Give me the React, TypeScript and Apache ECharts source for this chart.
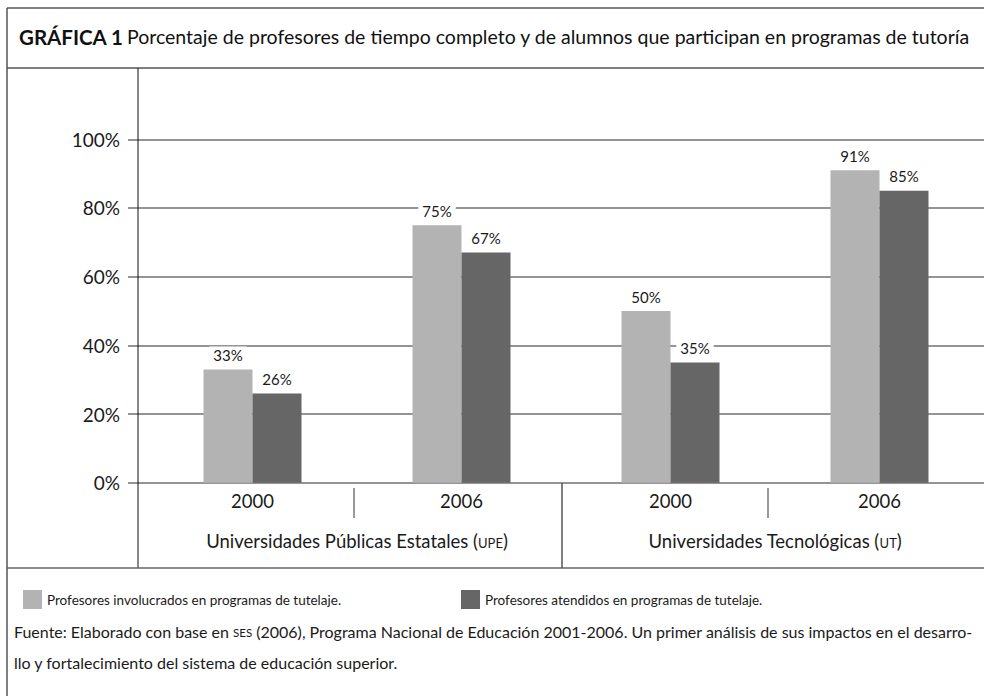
import React, { useEffect, useRef } from "react";
import * as echarts from "echarts";

const years = ["2000", "2006", "2000", "2006"];
const groups = ["Universidades Públicas Estatales (UPE)", "Universidades Tecnológicas (UT)"];
const seriesNames = [
  "Profesores involucrados en programas de tutelaje.",
  "Profesores atendidos en programas de tutelaje.",
];
const involved = [33, 75, 50, 91];
const attended = [26, 67, 35, 85];
const yMin = 0;
const yMax = 100;
const yInterval = 20;

const titleBold = "GRÁFICA 1";
const titleText = "Porcentaje de profesores de tiempo completo y de alumnos que participan en programas de tutoría";
const sourceLine1a = "Fuente: Elaborado con base en ";
const sourceLine1sc = "SES";
const sourceLine1b = " (2006), Programa Nacional de Educación 2001-2006. Un primer análisis de sus impactos en el desarro-";
const sourceLine2 = "llo y fortalecimiento del sistema de educación superior.";

const FONT = "Lato, 'Noto Sans', sans-serif";
const LIGHT = "#b3b3b3";
const DARK = "#666666";
const LINE = "#707070";
const TEXT = "#1a1a1a";

export default function App() {
  const ref = useRef<HTMLDivElement>(null);
  useEffect(() => {
    if (!ref.current) return;
    const chart = echarts.init(ref.current, undefined, { renderer: "svg" });
    const top = 139.3;
    const height = 343.4;
    const bottom = 696 - top - height;
    const line = (x1: number, y1: number, x2: number, y2: number, stroke: string, lineWidth: number) => ({
      type: "line",
      shape: { x1, y1, x2, y2 },
      style: { stroke, lineWidth },
      silent: true,
      z: 10,
    });
    const barLabel = {
      show: true,
      position: "top",
      distance: 6,
      formatter: "{c}%",
      fontSize: 15,
      color: TEXT,
      fontFamily: FONT,
      backgroundColor: "#ffffff",
      padding: [1, 4],
    };
    const option: any = {
      animation: false,
      textStyle: { fontFamily: FONT },
      grid: [
        { left: 128, right: 0, top, bottom },
        { left: 148, right: 0, top, bottom },
      ],
      xAxis: [
        { gridIndex: 0, type: "value", show: false, min: 0, max: 1 },
        {
          gridIndex: 1,
          type: "category",
          data: years,
          axisLine: { show: false },
          axisTick: { show: false },
          axisLabel: { interval: 0, fontSize: 18.5, color: TEXT, margin: 9, fontFamily: FONT },
        },
        {
          gridIndex: 1,
          type: "category",
          data: groups,
          position: "bottom",
          offset: 40,
          axisLine: { show: false },
          axisTick: { show: false },
          axisLabel: {
            interval: 0,
            hideOverlap: false,
            fontSize: 18.5,
            color: TEXT,
            margin: 7,
            fontFamily: FONT,
            lineHeight: 22,
            formatter: (v: string) => v.replace(/\((UPE|UT)\)/, "({sc|$1})"),
            rich: { sc: { fontSize: 13, color: TEXT, fontFamily: FONT, lineHeight: 22, verticalAlign: "bottom", padding: [0, 0, 2, 0] } },
          },
        },
      ],
      yAxis: [
        {
          gridIndex: 0,
          type: "value",
          min: yMin,
          max: yMax,
          interval: yInterval,
          axisLine: { show: false },
          axisTick: { show: false },
          axisLabel: { formatter: "{value}%", fontSize: 19, color: TEXT, margin: 8, fontFamily: FONT },
          splitLine: { lineStyle: { color: LINE, width: 1.5 } },
        },
        { gridIndex: 1, type: "value", min: yMin, max: yMax, show: false, splitLine: { show: false } },
      ],
      legend: [
        {
          data: [seriesNames[0]],
          left: 18,
          top: 585,
          itemWidth: 19,
          itemHeight: 19,
          icon: "rect",
          textStyle: { fontSize: 13.5, color: TEXT, fontFamily: FONT },
          selectedMode: false,
        },
        {
          data: [seriesNames[1]],
          left: 456,
          top: 585,
          itemWidth: 19,
          itemHeight: 19,
          icon: "rect",
          textStyle: { fontSize: 13.5, color: TEXT, fontFamily: FONT },
          selectedMode: false,
        },
      ],
      series: [
        {
          name: seriesNames[0],
          type: "bar",
          xAxisIndex: 1,
          yAxisIndex: 1,
          data: involved,
          barWidth: 49,
          barGap: "0%",
          itemStyle: { color: LIGHT },
          label: barLabel,
        },
        {
          name: seriesNames[1],
          type: "bar",
          xAxisIndex: 1,
          yAxisIndex: 1,
          data: attended,
          barWidth: 49,
          barGap: "0%",
          itemStyle: { color: DARK },
          label: barLabel,
        },
      ],
      graphic: [
        line(7, 8, 984, 8, "#555", 1.5),
        line(7, 8, 7, 696, "#555", 1.5),
        line(7, 68, 984, 68, "#555", 1.5),
        line(138, 68, 138, 568, "#111", 1),
        line(7, 568, 984, 568, "#666", 1.5),
        line(354, 488, 354, 518, "#333", 1),
        line(562, 483, 562, 568, "#555", 1.5),
        line(768, 488, 768, 518, "#333", 1),
        {
          type: "text",
          left: 19,
          top: 26,
          style: {
            text: `{b|${titleBold}} {n|${titleText}}`,
            rich: {
              b: { fontSize: 20.5, fontWeight: "bold", fill: "#111", fontFamily: FONT },
              n: { fontSize: 19.5, fill: "#111", fontFamily: FONT },
            },
          },
        },
        {
          type: "text",
          left: 14,
          top: 623,
          style: {
            text: `{n|${sourceLine1a}}{sc|${sourceLine1sc}}{n|${sourceLine1b}}`,
            rich: {
              n: { fontSize: 16, fill: TEXT, fontFamily: FONT, lineHeight: 19 },
              sc: { fontSize: 11.5, fill: TEXT, fontFamily: FONT, lineHeight: 19, verticalAlign: "bottom", padding: [0, 0, 2, 0] },
            },
          },
        },
        {
          type: "text",
          left: 14,
          top: 654,
          style: { text: sourceLine2, fontSize: 16, fill: TEXT, fontFamily: FONT },
        },
      ],
    };
    chart.setOption(option);
    return () => chart.dispose();
  }, []);
  return <div ref={ref} style={{ width: 984, height: 696, position: "absolute", left: 0, top: 0, background: "#fff" }} />;
}
